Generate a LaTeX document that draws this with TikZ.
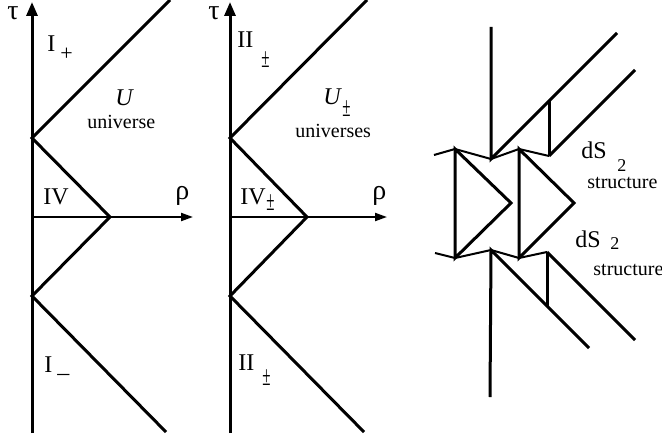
\documentclass[tikz,border=0pt]{standalone}
\usepackage{fontspec}
\setmainfont{Liberation Serif}
\usetikzlibrary{arrows.meta, positioning}

\newcommand{\pmlow}{\scalebox{0.75}[1.4]{±}}

\begin{document}
\begin{tikzpicture}[x=0.5pt, y=-0.5pt,
    thick line/.style={line width=1.5pt},
    zig/.style={line width=1pt},
    tauaxis/.style={line width=1.5pt, -{Triangle[length=7pt, width=5.5pt]}},
    rhoaxis/.style={line width=1pt, -{Triangle[length=6pt, width=4pt]}},
    lab/.style={font=\fontsize{12}{14}\selectfont, inner sep=0pt, anchor=base west},
    greek/.style={font=\fontsize{14}{16}\selectfont, inner sep=0pt, anchor=base west},
    small/.style={font=\fontsize{10}{12}\selectfont, inner sep=0pt, anchor=base west},
    sub/.style={font=\fontsize{10}{12}\selectfont, inner sep=0pt, anchor=base west}]

\useasboundingbox (0,0) rectangle (662,438);

% left diagram
\coordinate (L0) at (32,433);
\coordinate (Ltop) at (32,2);
\coordinate (Lup) at (32,138);
\coordinate (Llow) at (32,296);
\coordinate (Lmid) at (32,217);
\coordinate (Ltip) at (110,217);
\coordinate (Lne) at (170,0);
\coordinate (Lse) at (166,432);
\coordinate (Lrho) at (193,217);
\draw[tauaxis] (L0) -- (Ltop);
\draw[thick line] (Lne) -- (Lup) -- (Ltip) -- (Llow) -- (Lse);
\draw[rhoaxis] (Lmid) -- (Lrho);

\node[greek] (tauL) at (7,20) {τ};
\node[greek] (rhoL) at (175,199) {ρ};
\node[lab] (Iplus) at (47,52) {I};
\node[sub, font=\fontsize{11}{12}\selectfont] (Iplussub) at (60,61) {+};
\node[lab] (U) at (115,106) {\itshape U};
\node[small] (univ) at (87,129) {universe};
\node[lab] (IV) at (43,205) {IV};
\node[lab] (Iminus) at (44,372) {I};
\node[lab] (Iminussub) at (57,372) {\_};

% middle diagram
\coordinate (M0) at (230,433);
\coordinate (Mtop) at (230,2);
\coordinate (Mup) at (230,138);
\coordinate (Mlow) at (230,296);
\coordinate (Mmid) at (230,217);
\coordinate (Mtip) at (307,217);
\coordinate (Mne) at (367,0);
\coordinate (Mse) at (364,432);
\coordinate (Mrho) at (387,217);
\draw[tauaxis] (M0) -- (Mtop);
\draw[thick line] (Mne) -- (Mup) -- (Mtip) -- (Mlow) -- (Mse);
\draw[rhoaxis] (Mmid) -- (Mrho);

\node[greek] (tauM) at (208,20) {τ};
\node[greek] (rhoM) at (372,199) {ρ};
\node[lab] (IIup) at (237,48) {II};
\node[sub] (IIupsub) at (261,68) {\pmlow};
\node[lab] (Upm) at (323,105) {\itshape U};
\node[sub] (Upmsub) at (342,117) {\pmlow};
\node[small] (univs) at (295,138) {universes};
\node[lab] (IVpm) at (240,205) {IV};
\node[sub] (IVpmsub) at (266,210) {\pmlow};
\node[lab] (IIdown) at (238,370) {II};
\node[sub] (IIdownsub) at (262,385) {\pmlow};

% right diagram: dS_2 structures
\coordinate (Vtop) at (491,27);
\coordinate (Vbot) at (490,397);
\coordinate (Z1) at (434,155);
\coordinate (Z2) at (455,149);
\coordinate (Z3) at (491,159);
\coordinate (Z4) at (519,149);
\coordinate (Z5) at (549,156);
\coordinate (W1) at (435,253);
\coordinate (W2) at (455,258);
\coordinate (W3) at (491,250);
\coordinate (W4) at (519,258);
\coordinate (W5) at (547,252);
\coordinate (A1) at (511,203);
\coordinate (A2) at (574,203);
\coordinate (NE1) at (617,33);
\coordinate (NE2) at (635,70);
\coordinate (SE1) at (589,348);
\coordinate (SE2) at (635,340);
\coordinate (S1) at (549,101);
\coordinate (S2) at (547,306);

\draw[thick line] (Vtop) -- (Z3) -- (NE1);
\draw[thick line] (Z5) -- (NE2);
\draw[thick line] (S1) -- (Z5);
\draw[zig] (Z1) -- (Z2) -- (Z3) -- (Z4) -- (Z5);
\draw[thick line] (Z2) -- (A1) -- (W2) -- cycle;
\draw[thick line] (Z4) -- (A2) -- (W4) -- cycle;
\draw[zig] (W1) -- (W2) -- (W3) -- (W4) -- (W5);
\draw[thick line] (Vbot) -- (W3) -- (SE1);
\draw[thick line] (W5) -- (SE2);
\draw[thick line] (W5) -- (S2);

\node[lab] (dSup) at (581,159) {dS};
\node[sub, font=\fontsize{9}{10}\selectfont] (dSupsub) at (617,171) {2};
\node[small] (strup) at (587,188) {structure};
\node[lab] (dSdown) at (575,247) {dS};
\node[sub, font=\fontsize{9}{10}\selectfont] (dSdownsub) at (610,249) {2};
\node[small] (strdown) at (593,275) {structure};
\end{tikzpicture}
\end{document}
